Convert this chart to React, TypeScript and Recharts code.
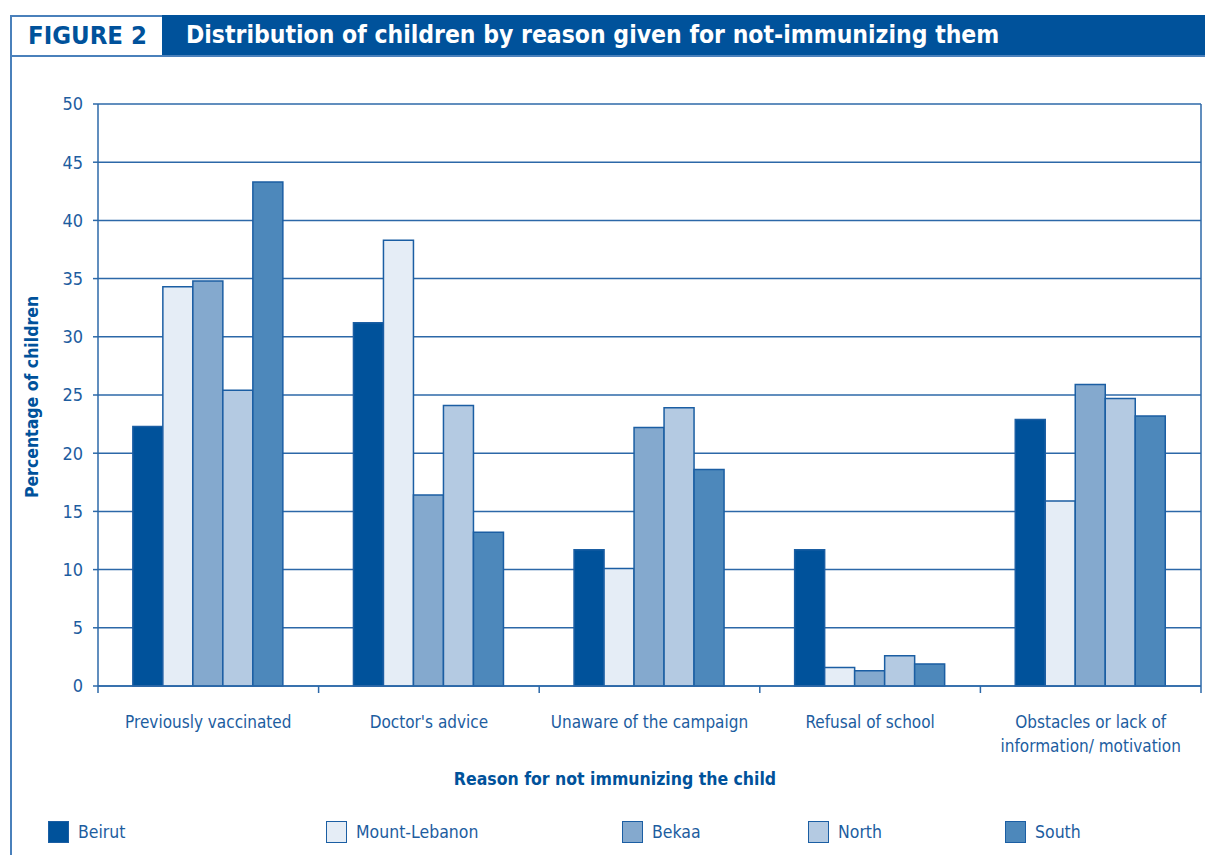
import { BarChart, Bar, XAxis, YAxis, CartesianGrid } from 'recharts';

// Reasons given for not immunizing, one group of bars per reason
const reasons = [
  'Previously vaccinated',
  "Doctor's advice",
  'Unaware of the campaign',
  'Refusal of school',
  'Obstacles or lack of\ninformation/ motivation',
];

// Percentage of children per governorate
const beirut = [22.3, 31.2, 11.7, 11.7, 22.9];
const mountLebanon = [34.3, 38.3, 10.1, 1.6, 15.9];
const bekaa = [34.8, 16.4, 22.2, 1.3, 25.9];
const north = [25.4, 24.1, 23.9, 2.6, 24.7];
const south = [43.3, 13.2, 18.6, 1.9, 23.2];

const yTicks = [0, 5, 10, 15, 20, 25, 30, 35, 40, 45, 50];

const series = [
  { name: 'Beirut', values: beirut, fill: '#00529b' },
  { name: 'Mount-Lebanon', values: mountLebanon, fill: '#e5edf6' },
  { name: 'Bekaa', values: bekaa, fill: '#84a9ce' },
  { name: 'North', values: north, fill: '#b4cae2' },
  { name: 'South', values: south, fill: '#4d88bb' },
];

// legend swatch left edges
const legendLeft = [48, 326, 622, 808, 1005];

const data = reasons.map((reason, i) => {
  const row: Record<string, string | number> = { reason };
  series.forEach(s => {
    row[s.name] = s.values[i];
  });
  return row;
});

const FONT = "'DejaVu Sans Condensed', 'Liberation Sans', sans-serif";
const DARK = '#00529b';
const TEXT = '#1d5d9f';
const LINE = '#2c68a8';
const FRAME = '#4a80bb';

const CHART_W = 1205;
const CHART_H = 855;
const PLOT_LEFT = 98;
const PLOT_RIGHT = 1201;
const PLOT_TOP = 104;
const PLOT_BOTTOM = 686;
const BAND = (PLOT_RIGHT - PLOT_LEFT) / reasons.length;
const HEADER_SPLIT = 162;

// category labels sit in the middle of each band, tick marks on band edges
function ReasonTick(props: any) {
  const { x, y, payload, index } = props;
  const lines = String(payload.value).split('\n');
  return (
    <g>
      <line x1={x - BAND / 2} x2={x - BAND / 2} y1={y} y2={y + 7} stroke={LINE} strokeWidth={1.5} />
      {index === reasons.length - 1 && (
        <line x1={x + BAND / 2} x2={x + BAND / 2} y1={y} y2={y + 7} stroke={LINE} strokeWidth={1.5} />
      )}
      <text x={x} y={y + 42} textAnchor="middle" fill={TEXT} fontSize={17} fontFamily={FONT}>
        {lines.map((l, i) => (
          <tspan key={i} x={x} dy={i === 0 ? 0 : 24}>
            {l}
          </tspan>
        ))}
      </text>
    </g>
  );
}

export default function App() {
  return (
    <div
      style={{
        position: 'fixed',
        left: 0,
        top: 0,
        width: CHART_W,
        height: CHART_H,
        overflow: 'hidden',
        background: '#fff',
        fontFamily: FONT,
      }}
    >
      {/* frame */}
      <div style={{ position: 'absolute', left: 10, top: 15, width: 1.5, height: 900, background: FRAME }} />
      <div style={{ position: 'absolute', left: 10, top: 15, width: HEADER_SPLIT - 10, height: 1.5, background: FRAME }} />
      <div style={{ position: 'absolute', left: 10, top: 55, width: 1195, height: 1.5, background: FRAME }} />

      {/* header */}
      <div
        style={{
          position: 'absolute',
          left: 28,
          top: 15,
          height: 41,
          lineHeight: '41px',
          color: DARK,
          fontWeight: 700,
          fontSize: 25.5,
        }}
      >
        FIGURE 2
      </div>
      <div
        style={{
          position: 'absolute',
          left: HEADER_SPLIT,
          top: 15,
          width: CHART_W - HEADER_SPLIT,
          height: 40,
          background: DARK,
          color: '#fff',
          fontWeight: 700,
          fontSize: 24.5,
          lineHeight: '40px',
          paddingLeft: 186 - HEADER_SPLIT,
          boxSizing: 'border-box',
          whiteSpace: 'nowrap',
        }}
      >
        Distribution of children by reason given for not-immunizing them
      </div>

      <div style={{ position: 'absolute', left: 0, top: 0 }}>
        <BarChart
          width={CHART_W}
          height={CHART_H}
          data={data}
          margin={{ top: PLOT_TOP, right: 0, left: PLOT_LEFT - 60, bottom: CHART_H - PLOT_BOTTOM - 80 }}
          barCategoryGap="15.8%"
          barGap={0}
        >
          <CartesianGrid vertical={false} stroke={LINE} strokeWidth={1.5} />
          <XAxis
            dataKey="reason"
            height={80}
            interval={0}
            tickLine={false}
            tickSize={0}
            tickMargin={0}
            axisLine={{ stroke: LINE, strokeWidth: 1.5 }}
            tick={<ReasonTick />}
          />
          <YAxis
            width={60}
            domain={[0, 50]}
            ticks={yTicks}
            interval={0}
            tickSize={5}
            tickMargin={10}
            axisLine={{ stroke: LINE, strokeWidth: 1.5 }}
            tickLine={{ stroke: LINE, strokeWidth: 1.5 }}
            tick={{ fill: TEXT, fontSize: 18, fontFamily: FONT }}
          />
          <YAxis
            yAxisId="edge"
            orientation="right"
            width={CHART_W - PLOT_RIGHT}
            domain={[0, 50]}
            tick={false}
            tickLine={false}
            axisLine={{ stroke: LINE, strokeWidth: 1.5 }}
          />
          {series.map(s => (
            <Bar
              key={s.name}
              dataKey={s.name}
              fill={s.fill}
              stroke="#1b5ea3"
              strokeWidth={1.5}
              isAnimationActive={false}
            />
          ))}
        </BarChart>
      </div>

      {/* axis titles */}
      <div
        style={{
          position: 'absolute',
          left: 32,
          top: 397,
          transform: 'translate(-50%, -50%) rotate(-90deg)',
          color: DARK,
          fontWeight: 700,
          fontSize: 17.5,
          whiteSpace: 'nowrap',
        }}
      >
        Percentage of children
      </div>
      <div
        style={{
          position: 'absolute',
          left: 415,
          top: 769,
          width: 400,
          textAlign: 'center',
          color: DARK,
          fontWeight: 700,
          fontSize: 17.5,
          whiteSpace: 'nowrap',
        }}
      >
        Reason for not immunizing the child
      </div>

      {/* legend */}
      {series.map((s, i) => (
        <div
          key={s.name}
          style={{
            position: 'absolute',
            left: legendLeft[i],
            top: 821,
            display: 'flex',
            alignItems: 'center',
            color: TEXT,
            fontSize: 17.5,
          }}
        >
          <span
            style={{
              display: 'inline-block',
              width: 19,
              height: 20,
              background: s.fill,
              border: '1.5px solid #1b5ea3',
              marginRight: 9,
            }}
          />
          {s.name}
        </div>
      ))}
    </div>
  );
}
